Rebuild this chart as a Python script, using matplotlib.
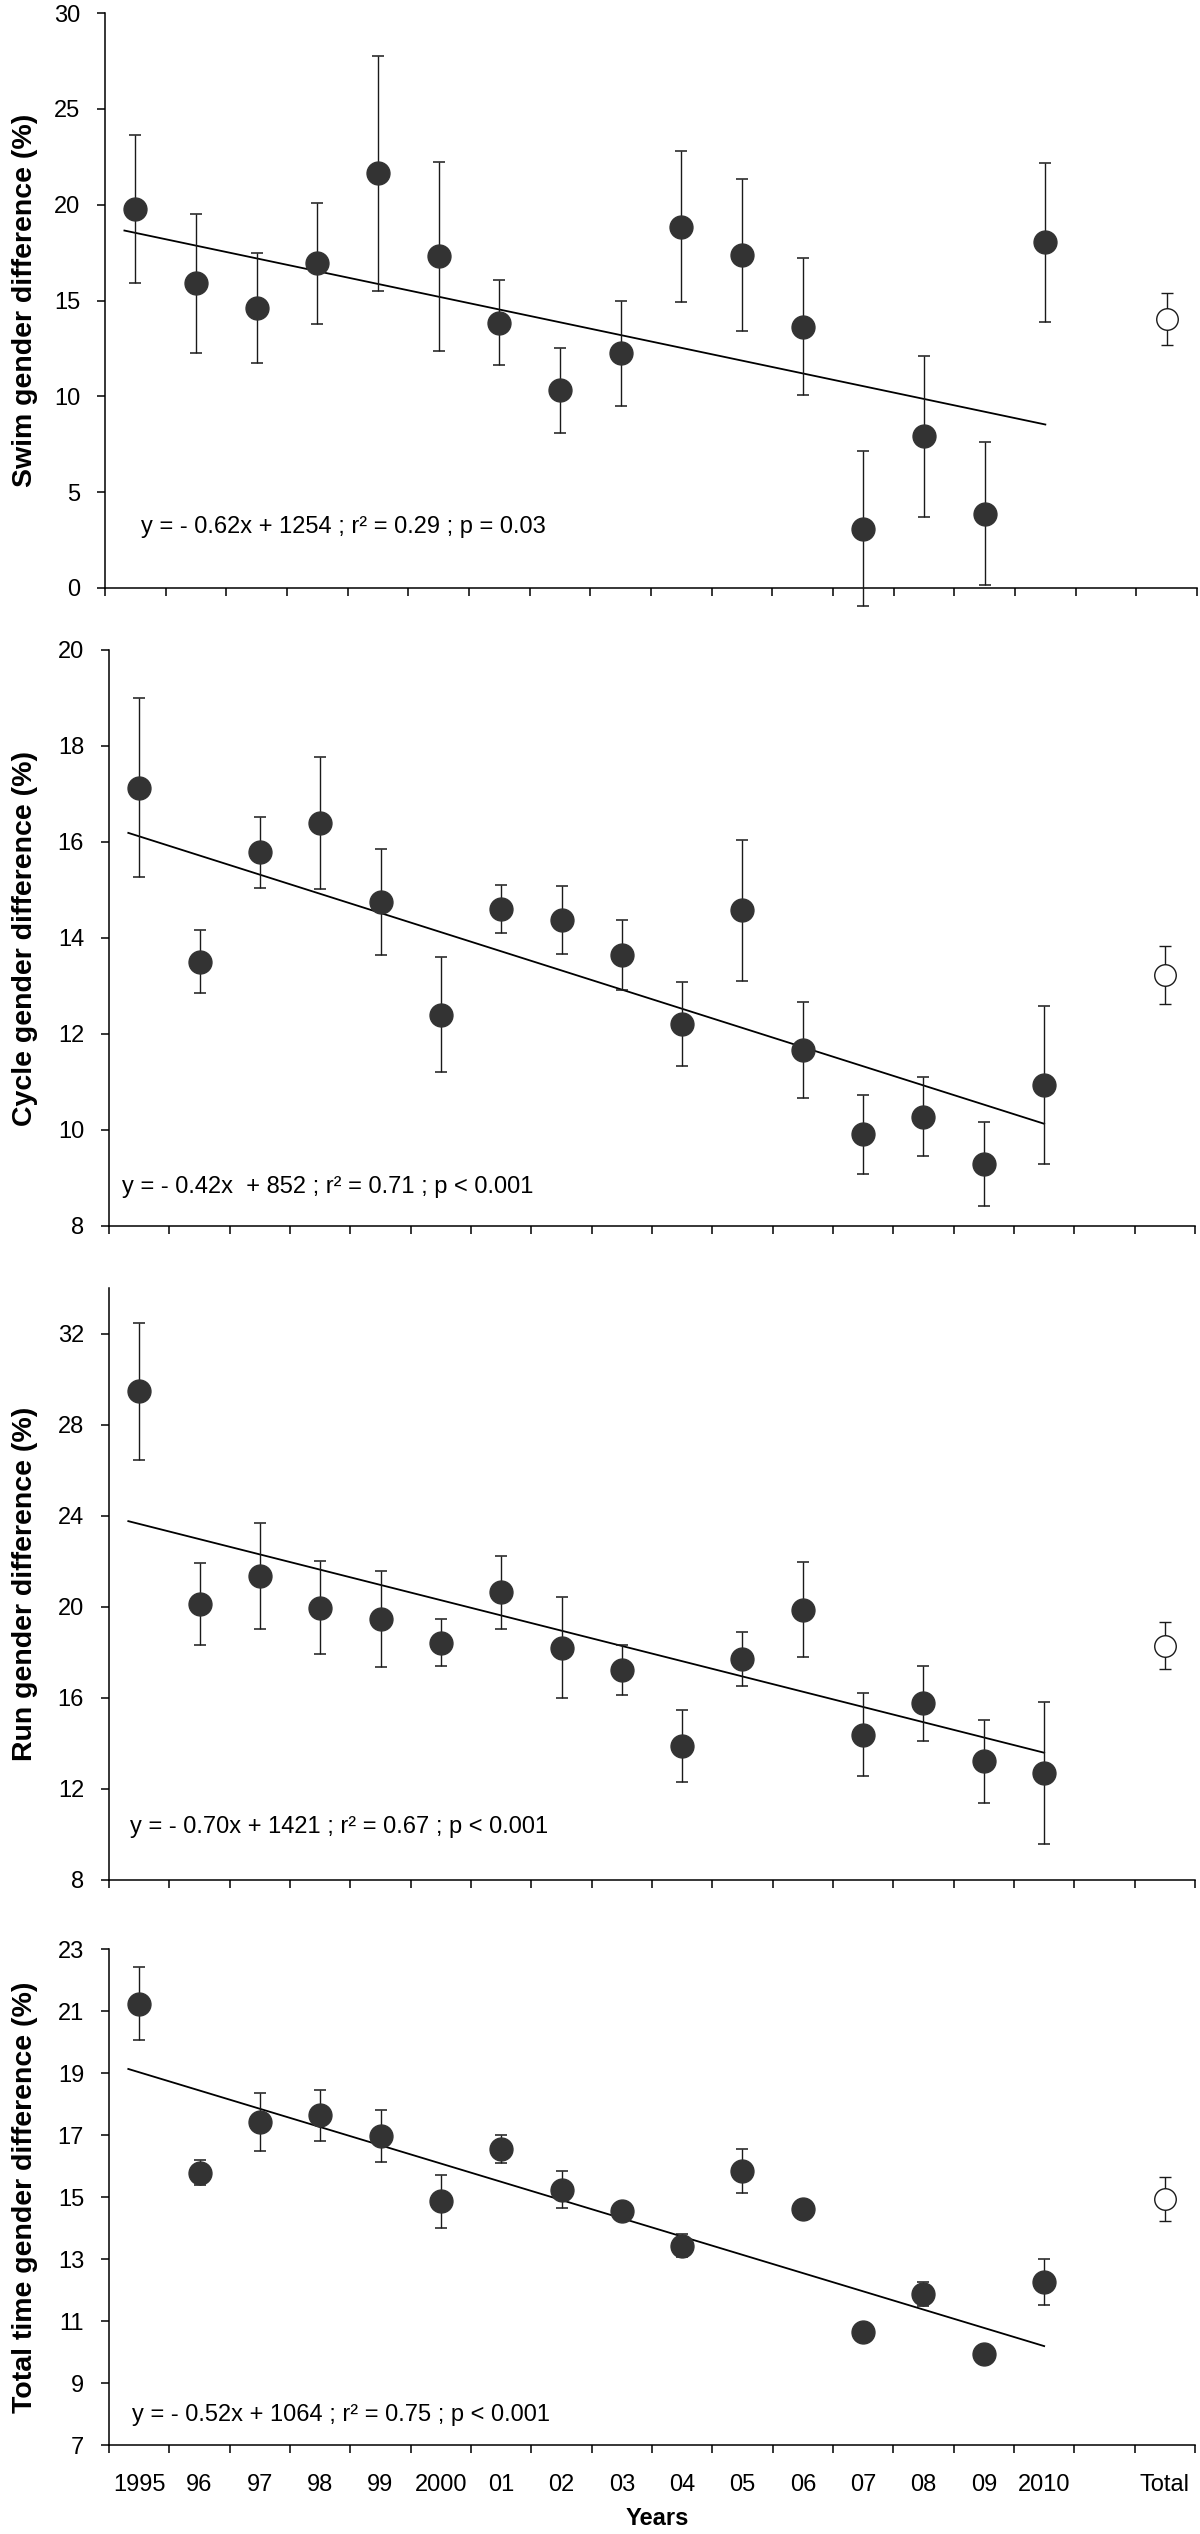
import numpy as np
import matplotlib
matplotlib.use("Agg")
import matplotlib.pyplot as plt

plt.rcParams['font.family'] = ['Liberation Sans', 'DejaVu Sans']

# categorias del eje x (la ranura 16 queda vacia)
year_labels = ['1995', '96', '97', '98', '99', '2000', '01', '02', '03', '04',
               '05', '06', '07', '08', '09', '2010', '', 'Total']

# medias y desviaciones (16 anios + total)
swim_mean = [19.78, 15.90, 14.62, 16.95, 21.64, 17.30, 13.85, 10.32, 12.24, 18.85,
             17.37, 13.63, 3.10, 7.91, 3.88, 18.03, 14.04]
swim_sd = [3.87, 3.62, 2.86, 3.15, 6.12, 4.93, 2.23, 2.22, 2.76, 3.94,
           3.97, 3.57, 4.03, 4.21, 3.74, 4.15, 1.36]

cycle_mean = [17.13, 13.51, 15.79, 16.40, 14.75, 12.40, 14.61, 14.37, 13.64, 12.21,
              14.58, 11.66, 9.91, 10.28, 9.29, 10.94, 13.23]
cycle_sd = [1.86, 0.66, 0.74, 1.38, 1.11, 1.20, 0.50, 0.71, 0.73, 0.87,
            1.47, 1.00, 0.82, 0.83, 0.87, 1.65, 0.60]

run_mean = [29.46, 20.14, 21.34, 19.96, 19.46, 18.42, 20.63, 18.21, 17.22, 13.87,
            17.71, 19.88, 14.39, 15.77, 13.21, 12.69, 18.28]
run_sd = [3.00, 1.80, 2.33, 2.04, 2.12, 1.03, 1.59, 2.20, 1.09, 1.58,
          1.18, 2.09, 1.84, 1.65, 1.83, 3.12, 1.03]

total_mean = [21.24, 15.78, 17.41, 17.63, 16.98, 14.86, 16.56, 15.24, 14.56, 13.43,
              15.84, 14.60, 10.64, 11.86, 9.93, 12.25, 14.93]
total_sd = [1.19, 0.40, 0.93, 0.81, 0.84, 0.86, 0.45, 0.61, 0.25, 0.38,
            0.71, 0.30, 0.15, 0.39, 0.12, 0.74, 0.70]

# recta de regresion: valores en sus extremos (1995 -> 2010)
swim_trend = [18.65, 8.53]
cycle_trend = [16.19, 10.13]
run_trend = [23.76, 13.59]
total_trend = [19.13, 10.19]

swim_eq = "y = - 0.62x + 1254 ; r\u00b2 = 0.29 ; p = 0.03"
cycle_eq = "y = - 0.42x  + 852 ; r\u00b2 = 0.71 ; p < 0.001"
run_eq = "y = - 0.70x + 1421 ; r\u00b2 = 0.67 ; p < 0.001"
total_eq = "y = - 0.52x + 1064 ; r\u00b2 = 0.75 ; p < 0.001"

W, H = 1200, 2534

panels = [
    # (ylabel, mean, sd, trend, eq, ylim, yticks, (left, right, top, bottom) px, eq pos)
    ("Swim gender difference (%)", swim_mean, swim_sd, swim_trend, swim_eq,
     (0, 30), np.arange(0, 31, 5), (105, 1197, 13, 588), (0.09, 3.16)),
    ("Cycle gender difference (%)", cycle_mean, cycle_sd, cycle_trend, cycle_eq,
     (8, 20), np.arange(8, 21, 2), (109, 1195, 650, 1226), (-0.28, 8.81)),
    ("Run gender difference (%)", run_mean, run_sd, run_trend, run_eq,
     (8, 34), np.arange(8, 33, 4), (109, 1195, 1288, 1880), (-0.15, 10.33)),
    ("Total time gender difference (%)", total_mean, total_sd, total_trend, total_eq,
     (7, 23), np.arange(7, 24, 2), (109, 1195, 1949, 2445), (-0.12, 7.96)),
]

fig = plt.figure(figsize=(W / 100, H / 100), dpi=100)

x_years = np.arange(16)
x_total = 17
trend_x = [-0.18, 15.0]

for i, (ylab, mean, sd, trend, eq, ylim, yticks, box, eqpos) in enumerate(panels):
    left, right, top, bottom = box
    ax = fig.add_axes([left / W, 1 - bottom / H, (right - left) / W, (bottom - top) / H])

    eb = ax.errorbar(x_years, mean[:16], yerr=sd[:16], fmt='o', ms=16.5,
                     mfc='#333333', mec='#333333', ecolor='#1a1a1a',
                     elinewidth=1.0, capsize=4, capthick=1.1, zorder=3)
    eb2 = ax.errorbar([x_total], [mean[16]], yerr=[sd[16]], fmt='o', ms=15.5,
                      mfc='white', mec='#1a1a1a', mew=1.0, ecolor='#1a1a1a',
                      elinewidth=1.0, capsize=4, capthick=1.1, zorder=3)
    for c in (eb, eb2):
        for art in c.get_children():
            art.set_clip_on(False)

    ax.plot(trend_x, trend, color='black', lw=1.3, zorder=2)
    ax.text(eqpos[0], eqpos[1], eq, fontsize=17, ha='left', va='center')

    ax.set_xlim(-0.5, 17.5)
    ax.set_ylim(*ylim)
    ax.set_yticks(yticks)
    ax.set_xticks(np.arange(-0.5, 18, 1))
    ax.set_xticklabels([])
    ax.set_xticks(np.arange(18), minor=True)
    if i == len(panels) - 1:
        ax.set_xticklabels(year_labels, minor=True, fontsize=17)
        ax.set_xlabel("Years", fontsize=17, fontweight='bold')
        ax.xaxis.set_label_coords(0.505, -0.125)
    else:
        ax.set_xticklabels([''] * 18, minor=True)

    for s in ('top', 'right'):
        ax.spines[s].set_visible(False)
    for s in ('left', 'bottom'):
        ax.spines[s].set_linewidth(1.1)

    ax.tick_params(axis='x', which='major', length=6, width=1.1, direction='out')
    ax.tick_params(axis='x', which='minor', length=0, pad=21)
    ax.tick_params(axis='y', length=6, width=1.1, pad=12, labelsize=17)

    # la etiqueta se ancla por su borde derecho (texto girado)
    ax.set_ylabel(ylab, fontsize=20.5, fontweight='bold')
    ax.yaxis.set_label_coords((38 - left) / (right - left), 0.5)

fig.savefig("out.png", dpi=100)
plt.close(fig)
print("[OK] Guardado: out.png")
